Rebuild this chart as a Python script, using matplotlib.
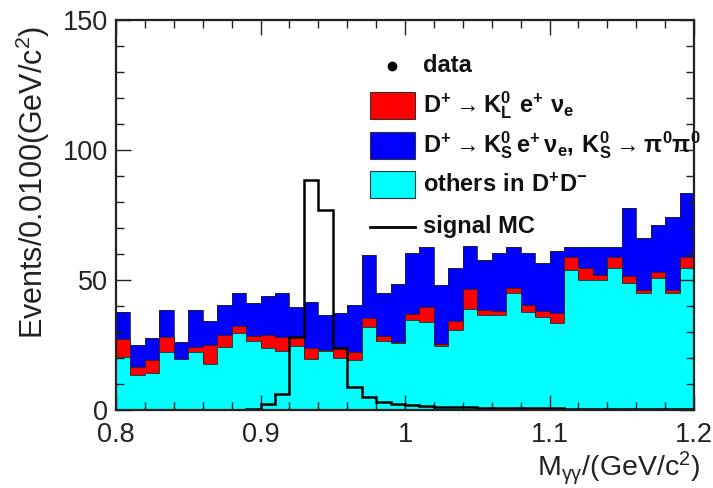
import numpy as np
import matplotlib
matplotlib.use("Agg")
import matplotlib.pyplot as plt
from matplotlib.ticker import MultipleLocator, FuncFormatter
from matplotlib.patches import Rectangle
from matplotlib.lines import Line2D

plt.rcParams['font.family'] = ['Liberation Sans', 'DejaVu Sans']

# ---- data (events per 0.01 GeV/c^2 bin, 0.80 - 1.20) ----
bin_edges = np.round(np.linspace(0.8, 1.2, 41), 4)
others = [20.5, 13.5, 14.4, 22.4, 19.5, 22.4, 17.7, 24.4, 29.5, 26.5,
          24.0, 22.8, 24.5, 19.5, 22.8, 19.9, 19.2, 32.0, 26.5, 25.6,
          34.6, 34.0, 24.6, 30.8, 39.0, 36.5, 36.7, 44.9, 37.8, 35.8,
          33.3, 53.8, 50.0, 50.0, 54.5, 49.0, 45.0, 50.8, 45.0, 54.5]
kl_e_nu = [6.8, 3.0, 4.8, 5.8, 0.3, 2.0, 7.3, 4.6, 2.8, 2.0,
           4.8, 5.2, 3.5, 4.2, 0.3, 4.5, 3.0, 3.5, 1.8, 0.5,
           2.4, 5.5, 0.6, 3.6, 7.5, 2.0, 1.5, 1.9, 2.6, 2.2,
           3.9, 5.2, 4.5, 1.9, 4.5, 2.7, 1.2, 2.4, 1.2, 4.5]
ks_e_nu = [10.5, 8.5, 8.4, 10.3, 6.5, 14.1, 9.4, 11.4, 12.6, 12.5,
           15.0, 16.9, 11.7, 18.0, 13.4, 12.8, 18.0, 24.3, 16.6, 22.5,
           23.3, 23.3, 23.0, 20.1, 16.4, 19.2, 22.1, 16.0, 19.9, 18.4,
           23.8, 3.8, 8.3, 10.9, 3.8, 25.9, 19.8, 18.0, 28.2, 24.3]
signal_mc = [0, 0, 0, 0, 0, 0, 0, 0, 0, 0.5,
             2.5, 6.2, 28.0, 88.5, 77.0, 24.0, 9.0, 5.0, 3.0, 2.3,
             1.8, 1.5, 1.3, 1.1, 1.0, 0.9, 0.8, 0.7, 0.7, 0.6,
             0.6, 0.5, 0.5, 0.5, 0.4, 0.4, 0.4, 0.3, 0.3, 0.3]

labels = ["data",
          r"$\mathregular{D^{+} \rightarrow K^{0}_{L}\ e^{+}\ \nu_{e}}$",
          r"$\mathregular{D^{+} \rightarrow K^{0}_{S}\,e^{+}\,\nu_{e},\,K^{0}_{S} \rightarrow \pi^{0}\pi^{0}}$",
          r"$\mathregular{others\ in\ D^{+}D^{-}}$",
          "signal MC"]
colors = ["#00FFFF", "#FF0000", "#0000FF"]

W, H = 713, 488
fig = plt.figure(figsize=(W / 100, H / 100), dpi=100)
fig.patch.set_facecolor("white")
L, R, B, T = 116, 694, 410, 20
ax = fig.add_axes([L / W, 1 - B / H, (R - L) / W, (B - T) / H])

centers = 0.5 * (bin_edges[:-1] + bin_edges[1:])
ax.hist([centers, centers, centers], bins=bin_edges,
        weights=[others, kl_e_nu, ks_e_nu], stacked=True,
        histtype='stepfilled', color=colors, linewidth=0)
# thin outlines of each stacked layer
ax.hist([centers, centers, centers], bins=bin_edges,
        weights=[others, kl_e_nu, ks_e_nu], stacked=True,
        histtype='step', color=['#222222'] * 3, linewidth=0.6)
ax.hist(centers, bins=bin_edges, weights=signal_mc, histtype='step',
        color='black', linewidth=1.8)

ax.set_xlim(0.8, 1.2)
ax.set_ylim(0, 150)
ax.xaxis.set_major_locator(MultipleLocator(0.1))
ax.xaxis.set_minor_locator(MultipleLocator(0.02))
ax.yaxis.set_major_locator(MultipleLocator(50))
ax.yaxis.set_minor_locator(MultipleLocator(10))
ax.xaxis.set_major_formatter(FuncFormatter(lambda v, p: "%g" % round(v, 3)))
ax.yaxis.set_major_formatter(FuncFormatter(lambda v, p: "%g" % v))
ax.tick_params(which='both', direction='in', top=True, right=True,
               color='#222222', width=1.0)
ax.tick_params(which='major', length=11)
ax.tick_params(which='minor', length=5.5)
ax.tick_params(axis='y', which='major', labelsize=19.5, pad=6, labelcolor='#222222')
ax.tick_params(axis='x', which='major', labelsize=19.5, pad=9, labelcolor='#222222')
for s in ax.spines.values():
    s.set_linewidth(1.6)
    s.set_color('#222222')

fig.text(700 / W, 1 - 476 / H, r"$\mathregular{M_{\gamma\gamma}/(GeV/c^{2})}$",
         ha='right', va='baseline', fontsize=20.5, color='#222222')
fig.text(33 / W, 1 - 182 / H, r"$\mathregular{Events/0.0100(GeV/c^{2})}$",
         rotation=90, ha='center', va='center', fontsize=22, color='#222222')

# ---- legend drawn manually in pixel coordinates ----
def px(x, y):
    return x / W, 1 - y / H

rows = [66, 105, 145, 185, 227]
bx0, bx1, bh = 370, 415, 27
fig.add_artist(Line2D([px(392, 0)[0]], [px(0, rows[0])[1]], marker='o',
                      markersize=6, color='black', transform=fig.transFigure))
for r, c in zip(rows[1:4], [colors[1], colors[2], colors[0]]):
    x0, y0 = px(bx0, r + bh / 2)
    fig.add_artist(Rectangle((x0, y0), (bx1 - bx0) / W, bh / H,
                             facecolor=c, edgecolor='#333333', linewidth=0.8,
                             transform=fig.transFigure))
fig.add_artist(Line2D([bx0 / W, bx1 / W], [px(0, rows[4])[1]] * 2,
                      color='black', linewidth=2, transform=fig.transFigure))
for r, lab in zip(rows, labels):
    fig.text(423 / W, 1 - r / H, lab, ha='left', va='center', fontsize=17,
             fontweight='bold', color='#111111')

fig.savefig("out.png", dpi=100)
